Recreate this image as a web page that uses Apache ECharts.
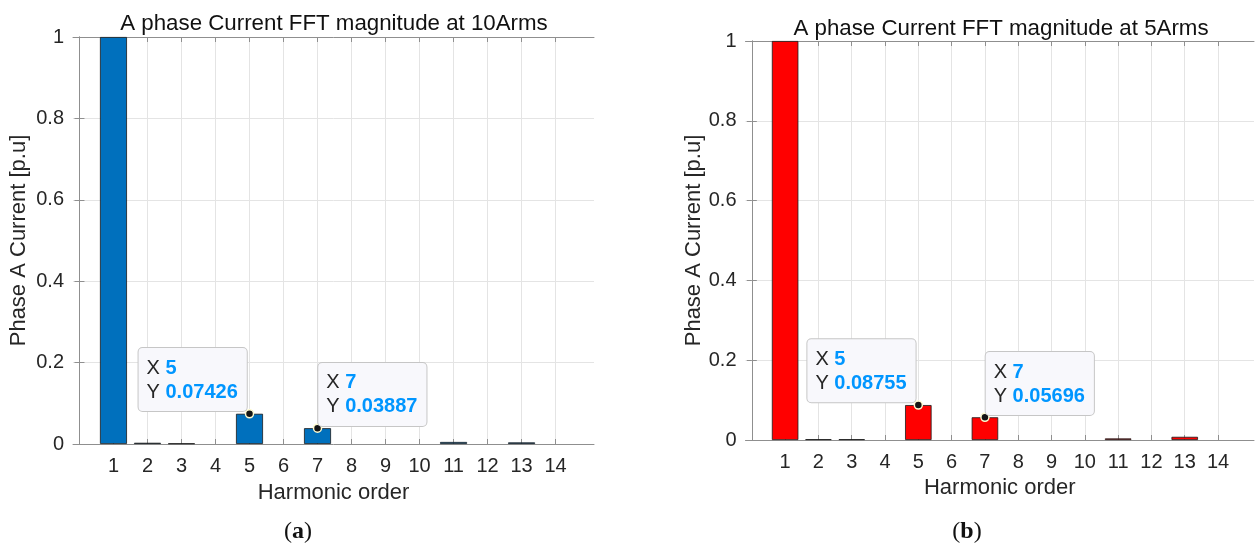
<!DOCTYPE html>
<html>
<head>
    <meta charset="utf-8">
    <title>FFT magnitude</title>
    <script src="https://cdn.jsdelivr.net/npm/echarts@6/dist/echarts.min.js"></script>
    <style>
        html, body { margin: 0; background: #fff; }
        #main { width: 1258px; height: 544px; }
    </style>
</head>
<body>
<div id="main"></div>
<script type="text/javascript">
    // harmonic orders and per-unit magnitudes
    var harmonics = [1, 2, 3, 4, 5, 6, 7, 8, 9, 10, 11, 12, 13, 14];
    var amp10 = [1, 0.003, 0.0015, 0, 0.07426, 0, 0.03887, 0, 0, 0, 0.005, 0, 0.004, 0];
    var amp5 = [1, 0.002, 0.002, 0, 0.08755, 0, 0.05696, 0, 0, 0, 0.004, 0, 0.008, 0];
    var yTicks = [0, 0.2, 0.4, 0.6, 0.8, 1];
    var tipOrders = [5, 7];
    var titles = ['A phase Current FFT magnitude at 10Arms', 'A phase Current FFT magnitude at 5Arms'];
    var panelTags = ['a', 'b'];

    var FONT = 'Liberation Sans';
    var AXIS_GRAY = '#8f8f8f';
    var TEXT = '#262626';
    var GRIDC = '#e4e4e4';

    function xAxes(gridIndex, max) {
        var base = {
            type: 'value', gridIndex: gridIndex, min: -0.19, max: max,
            axisLine: { show: true, onZero: false, lineStyle: { color: AXIS_GRAY, width: 1 } },
            axisTick: { show: true, inside: true, length: 5, customValues: harmonics,
                        lineStyle: { color: AXIS_GRAY } }
        };
        var bottom = echarts.util.merge({
            position: 'bottom',
            axisLabel: { customValues: harmonics, margin: 12, color: TEXT, fontSize: 20, fontFamily: FONT },
            splitLine: { show: true, lineStyle: { color: GRIDC, width: 1 } },
            name: 'Harmonic order', nameLocation: 'middle',
            nameGap: gridIndex === 0 ? 38 : 36,
            nameTextStyle: { color: TEXT, fontSize: 22, fontFamily: FONT }
        }, base, true);
        var top = echarts.util.merge({
            position: 'top',
            axisLabel: { show: false },
            splitLine: { show: false }
        }, base, true);
        return [bottom, top];
    }

    function yAxes(gridIndex) {
        var base = {
            type: 'value', gridIndex: gridIndex, min: 0, max: 1, interval: 0.2,
            axisLine: { show: true, lineStyle: { color: AXIS_GRAY, width: 1 } },
            axisTick: { show: true, inside: true, length: 5, lineStyle: { color: AXIS_GRAY } }
        };
        var left = echarts.util.merge({
            position: 'left',
            axisLabel: { margin: 9, color: TEXT, fontSize: 20, fontFamily: FONT,
                         customValues: yTicks },
            splitLine: { show: true, lineStyle: { color: GRIDC, width: 1 } },
            name: 'Phase A Current [p.u]', nameLocation: 'middle', nameRotate: 90,
            nameGap: gridIndex === 0 ? 43 : 41,
            nameTextStyle: { color: TEXT, fontSize: 22, fontFamily: FONT }
        }, base, true);
        var right = echarts.util.merge({
            position: 'right',
            axisLabel: { show: false },
            splitLine: { show: false }
        }, base, true);
        return [left, right];
    }

    function tipPoint(amps, order, side) {
        var v = amps[harmonics.indexOf(order)];
        return {
            coord: [order, v],
            label: {
                show: true,
                formatter: '{k|X }{v|' + order + '}\n{k|Y }{v|' + String(v) + '}',
                position: side === 'left' ? [2, 2] : [5.5, 2.5],
                align: side === 'left' ? 'right' : 'left',
                verticalAlign: 'bottom',
                backgroundColor: '#f8f8fc',
                borderColor: '#c6c6c6',
                borderWidth: 1,
                borderRadius: 4,
                padding: [8, 9, 7, 8],
                lineHeight: 24,
                rich: {
                    k: { fontSize: 20, color: TEXT, fontFamily: FONT, lineHeight: 24, align: 'left' },
                    v: { fontSize: 20, color: '#0096ff', fontWeight: 'bold', fontFamily: FONT,
                         lineHeight: 24, align: 'left' }
                }
            }
        };
    }

    function barSeries(amps, idx, color, width) {
        return {
            type: 'bar',
            xAxisIndex: idx * 2,
            yAxisIndex: idx * 2,
            barWidth: width,
            data: harmonics.map(function (h, i) {
                var item = { value: [h, amps[i]] };
                // a zero bar's edge sits on the axis line and is not seen
                if (amps[i] === 0) item.itemStyle = { borderWidth: 0 };
                return item;
            }),
            itemStyle: { color: color, borderColor: '#1a1a1a', borderWidth: 0.8 },
            emphasis: { disabled: true },
            z: 3,
            markPoint: {
                symbol: 'circle',
                symbolSize: 8,
                silent: true,
                itemStyle: { color: '#151515', borderColor: '#fffbd0', borderWidth: 1.5 },
                data: [tipPoint(amps, tipOrders[0], 'left'), tipPoint(amps, tipOrders[1], 'right')]
            }
        };
    }

    var chart = echarts.init(document.getElementById('main'), null, { renderer: 'canvas' });

    var tagStyle = {
        fontSize: 24, fontWeight: 'normal', color: '#111', fontFamily: 'Liberation Serif',
        rich: { b: { fontSize: 24, fontWeight: 'bold', color: '#111', fontFamily: 'Liberation Serif' } }
    };
    var titleStyle = { fontSize: 22.3, fontWeight: 'normal', color: '#111', fontFamily: FONT };

    chart.setOption({
        animation: false,
        backgroundColor: '#ffffff',
        textStyle: { fontFamily: FONT },
        title: [
            { text: titles[0], left: 329, top: 8, textAlign: 'center', textStyle: titleStyle },
            { text: titles[1], left: 996, top: 13, textAlign: 'center', textStyle: titleStyle },
            { text: '({b|' + panelTags[0] + '})', left: 293, top: 515, textAlign: 'center', textStyle: tagStyle },
            { text: '({b|' + panelTags[1] + '})', left: 962, top: 515, textAlign: 'center', textStyle: tagStyle }
        ],
        grid: [
            { left: 73, right: 664, top: 37, bottom: 100, containLabel: false },
            { left: 745.5, right: 4, top: 41, bottom: 104, containLabel: false }
        ],
        xAxis: xAxes(0, 15.13).concat(xAxes(1, 15.08)),
        yAxis: yAxes(0).concat(yAxes(1)),
        series: [
            barSeries(amp10, 0, '#0070bd', 27),
            barSeries(amp5, 1, '#ff0000', 26.5)
        ]
    });
</script>
</body>
</html>
